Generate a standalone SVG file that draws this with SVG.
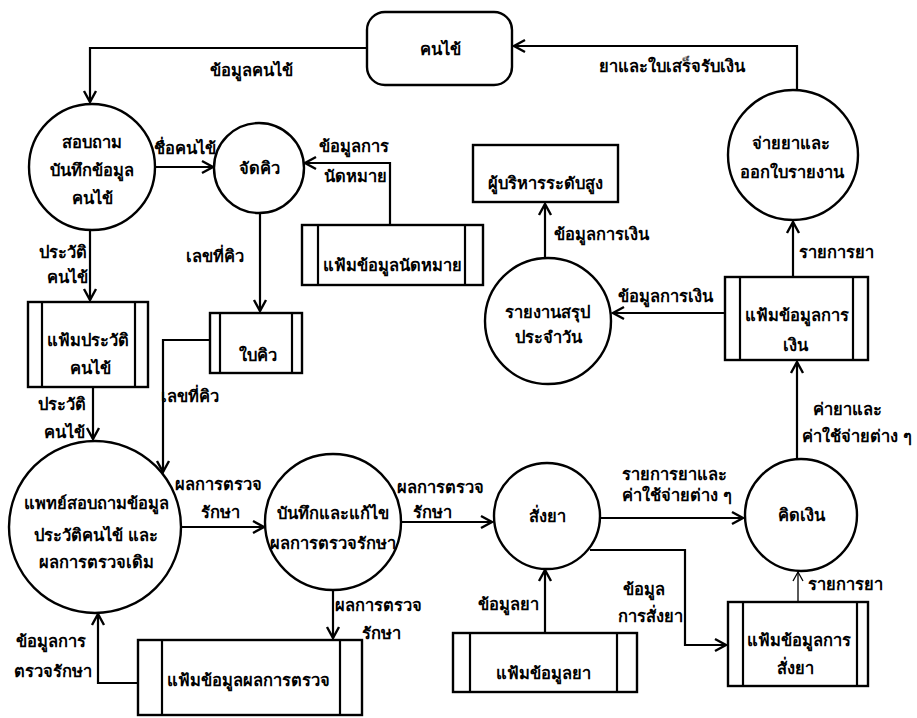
<svg xmlns="http://www.w3.org/2000/svg" width="917" height="718" viewBox="0 0 917 718">
<style>
.s{fill:#fff;stroke:#000;stroke-width:2.4}
.l{fill:none;stroke:#000;stroke-width:2.2}
.t{font-family:"Noto Sans","DejaVu Sans",sans-serif;font-size:16.5px;font-weight:bold;text-anchor:middle;fill:#000}
.k{fill:none;stroke:#000;stroke-width:2.2}
.th{fill:none;stroke:#000;stroke-width:1.3}
</style>
<defs>
<marker id="a" markerUnits="userSpaceOnUse" markerWidth="16" markerHeight="16" refX="13" refY="8" orient="auto">
<path d="M2,2 L13,8 L2,14" fill="none" stroke="#000" stroke-width="2.4"/>
</marker>
<marker id="b" markerUnits="userSpaceOnUse" markerWidth="14" markerHeight="14" refX="12" refY="7" orient="auto">
<path d="M3,2 L12,7 L3,12" fill="none" stroke="#000" stroke-width="1.3"/>
</marker>
</defs>
<rect width="917" height="718" fill="#fff"/>

<g id="connectors">
<polyline class="k" points="367,48 90,48 90,102" marker-end="url(#a)"/>
<polyline class="k" points="797,90 797,46 514,46" marker-end="url(#a)"/>
<line class="k" x1="155" y1="167" x2="213" y2="167" marker-end="url(#a)"/>
<polyline class="k" points="390,225 390,163 305,163" marker-end="url(#a)"/>
<line class="k" x1="260" y1="213" x2="260" y2="311" marker-end="url(#a)"/>
<polyline class="k" points="210,340 163,340 163,472" marker-end="url(#a)"/>
<line class="k" x1="90" y1="230" x2="90" y2="300" marker-end="url(#a)"/>
<line class="k" x1="93" y1="387" x2="93" y2="439" marker-end="url(#a)"/>
<line class="k" x1="181" y1="527" x2="264" y2="527" marker-end="url(#a)"/>
<line class="k" x1="401" y1="522" x2="492" y2="522" marker-end="url(#a)"/>
<line class="k" x1="333" y1="590" x2="333" y2="638" marker-end="url(#a)"/>
<polyline class="k" points="138,683 98,683 98,614" marker-end="url(#a)"/>
<line class="k" x1="600" y1="518" x2="743" y2="518" marker-end="url(#a)"/>
<polyline class="k" points="590,550 685,550 685,645 726,645" marker-end="url(#a)"/>
<line class="k" x1="545" y1="633" x2="545" y2="570" marker-end="url(#a)"/>
<line class="th" x1="798" y1="602" x2="798" y2="572" marker-end="url(#b)"/>
<line class="k" x1="797" y1="459" x2="797" y2="362" marker-end="url(#a)"/>
<line class="k" x1="725" y1="313" x2="613" y2="313" marker-end="url(#a)"/>
<line class="k" x1="545" y1="258" x2="545" y2="204" marker-end="url(#a)"/>
<line class="k" x1="793" y1="277" x2="793" y2="222" marker-end="url(#a)"/>

<text class="t" x="251" y="76">ข้อมูลคนไข้</text>
<text class="t" x="672" y="72">ยาและใบเสร็จรับเงิน</text>
<text class="t" x="185" y="154">ชื่อคนไข้</text>
<text class="t" x="354" y="152">ข้อมูลการ</text>
<text class="t" x="355" y="182">นัดหมาย</text>
<text class="t" x="215" y="262">เลขที่คิว</text>
<text class="t" x="63" y="258">ประวัติ</text>
<text class="t" x="67" y="283">คนไข้</text>
<text class="t" x="190" y="402">เลขที่คิว</text>
<text class="t" x="62" y="410">ประวัติ</text>
<text class="t" x="64" y="438">คนไข้</text>
<text class="t" x="218" y="490">ผลการตรวจ</text>
<text class="t" x="220" y="518">รักษา</text>
<text class="t" x="440" y="493">ผลการตรวจ</text>
<text class="t" x="432" y="518">รักษา</text>
<text class="t" x="378" y="611">ผลการตรวจ</text>
<text class="t" x="381" y="639">รักษา</text>
<text class="t" x="51" y="647">ข้อมูลการ</text>
<text class="t" x="53" y="677">ตรวจรักษา</text>
<text class="t" x="674" y="480">รายการยาและ</text>
<text class="t" x="677" y="501">ค่าใช้จ่ายต่าง ๆ</text>
<text class="t" x="644" y="595">ข้อมูล</text>
<text class="t" x="650" y="622">การสั่งยา</text>
<text class="t" x="508" y="610">ข้อมูลยา</text>
<text class="t" x="845" y="590">รายการยา</text>
<text class="t" x="847" y="415">ค่ายาและ</text>
<text class="t" x="857" y="442">ค่าใช้จ่ายต่าง ๆ</text>
<text class="t" x="665" y="302">ข้อมูลการเงิน</text>
<text class="t" x="601" y="240">ข้อมูลการเงิน</text>
<text class="t" x="836" y="258">รายการยา</text>
</g>

<g id="patient">
<rect class="s" x="367" y="12" width="145" height="73" rx="18"/>
<text class="t" x="440" y="55">คนไข้</text>
</g>
<g id="p1">
<circle class="s" cx="92" cy="167" r="63"/>
<text class="t" x="92" y="148">สอบถาม</text>
<text class="t" x="92" y="176">บันทึกข้อมูล</text>
<text class="t" x="92" y="204">คนไข้</text>
</g>
<g id="p2">
<circle class="s" cx="259" cy="168" r="45"/>
<text class="t" x="259" y="174">จัดคิว</text>
</g>
<g id="ds-appointment">
<rect class="s" x="302" y="225" width="181" height="60"/>
<line class="l" x1="318" y1="225" x2="318" y2="285"/>
<line class="l" x1="465" y1="225" x2="465" y2="285"/>
<text class="t" x="392" y="271">แฟ้มข้อมูลนัดหมาย</text>
</g>
<g id="ds-queue">
<rect class="s" x="210" y="313" width="92" height="60"/>
<line class="l" x1="220" y1="313" x2="220" y2="373"/>
<line class="l" x1="292" y1="313" x2="292" y2="373"/>
<text class="t" x="258" y="361">ใบคิว</text>
</g>
<g id="ds-history">
<rect class="s" x="28" y="302" width="120" height="85"/>
<line class="l" x1="42" y1="302" x2="42" y2="387"/>
<line class="l" x1="135" y1="302" x2="135" y2="387"/>
<text class="t" x="88" y="346">แฟ้มประวัติ</text>
<text class="t" x="90" y="374">คนไข้</text>
</g>
<g id="p3">
<circle class="s" cx="95" cy="527" r="86"/>
<text class="t" x="96" y="509">แพทย์สอบถามข้อมูล</text>
<text class="t" x="96" y="541">ประวัติคนไข้ และ</text>
<text class="t" x="96" y="568">ผลการตรวจเดิม</text>
</g>
<g id="p4">
<circle class="s" cx="333" cy="522" r="68"/>
<text class="t" x="333" y="519">บันทึกและแก้ไข</text>
<text class="t" x="333" y="549">ผลการตรวจรักษา</text>
</g>
<g id="ds-result">
<rect class="s" x="138" y="640" width="224" height="75"/>
<line class="l" x1="162" y1="640" x2="162" y2="715"/>
<line class="l" x1="340" y1="640" x2="340" y2="715"/>
<text class="t" x="248" y="686">แฟ้มข้อมูลผลการตรวจ</text>
</g>
<g id="p5">
<circle class="s" cx="547" cy="516" r="53"/>
<text class="t" x="547" y="522">สั่งยา</text>
</g>
<g id="p6">
<circle class="s" cx="801" cy="515" r="56"/>
<text class="t" x="801" y="521">คิดเงิน</text>
</g>
<g id="ds-order">
<rect class="s" x="728" y="602" width="140" height="84"/>
<line class="l" x1="743" y1="602" x2="743" y2="686"/>
<line class="l" x1="857" y1="602" x2="857" y2="686"/>
<text class="t" x="799" y="646">แฟ้มข้อมูลการ</text>
<text class="t" x="795" y="674">สั่งยา</text>
</g>
<g id="ds-drug">
<rect class="s" x="453" y="633" width="184" height="59"/>
<line class="l" x1="470" y1="633" x2="470" y2="692"/>
<line class="l" x1="617" y1="633" x2="617" y2="692"/>
<text class="t" x="543" y="679">แฟ้มข้อมูลยา</text>
</g>
<g id="ds-finance">
<rect class="s" x="725" y="277" width="143" height="83"/>
<line class="l" x1="740" y1="277" x2="740" y2="360"/>
<line class="l" x1="853" y1="277" x2="853" y2="360"/>
<text class="t" x="797" y="321">แฟ้มข้อมูลการ</text>
<text class="t" x="795" y="351">เงิน</text>
</g>
<g id="p7">
<circle class="s" cx="548" cy="321" r="63"/>
<text class="t" x="547" y="318">รายงานสรุป</text>
<text class="t" x="548" y="343">ประจำวัน</text>
</g>
<g id="exec">
<rect class="s" x="473" y="145" width="145" height="57"/>
<text class="t" x="545" y="189">ผู้บริหารระดับสูง</text>
</g>
<g id="p8">
<circle class="s" cx="793" cy="155" r="65"/>
<text class="t" x="791" y="149">จ่ายยาและ</text>
<text class="t" x="792" y="178">ออกใบรายงาน</text>
</g>
</svg>
